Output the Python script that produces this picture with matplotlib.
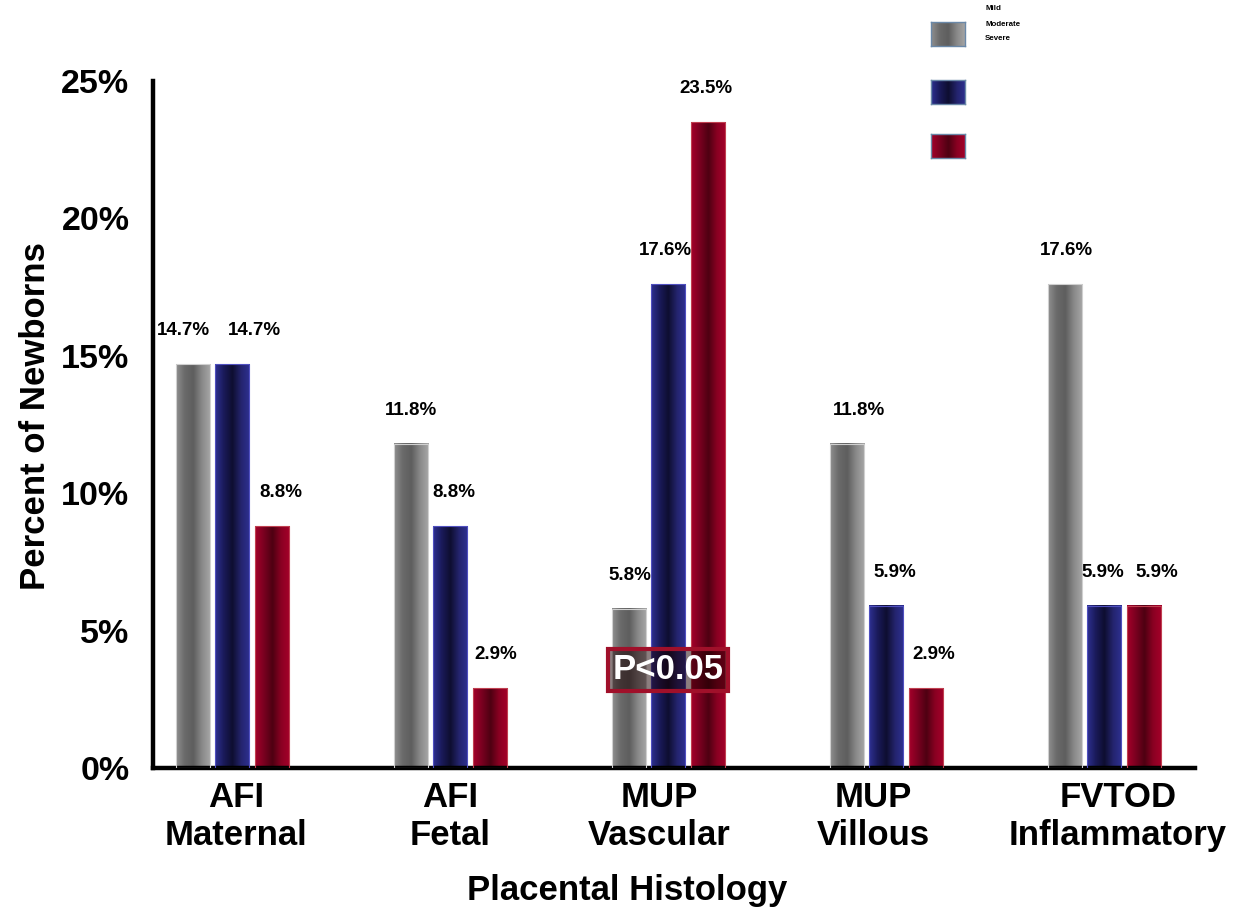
import numpy as np
import matplotlib
matplotlib.use("Agg")
import matplotlib.pyplot as plt
import matplotlib.transforms as mtransforms
from matplotlib.colors import LinearSegmentedColormap

plt.rcParams['font.family'] = ['Liberation Sans', 'DejaVu Sans']
plt.rcParams['font.weight'] = 'bold'

categories = ["AFI\nMaternal", "AFI\nFetal", "MUP\nVascular", "MUP\nVillous", "FVTOD\nInflammatory"]
series_names = ["Mild", "Moderate", "Severe"]
mild = [14.7, 11.8, 5.8, 11.8, 17.6]
moderate = [14.7, 8.8, 17.6, 5.9, 5.9]
severe = [8.8, 2.9, 23.5, 2.9, 5.9]
yticks = [0, 5, 10, 15, 20, 25]
ytick_labels = ["0%", "5%", "10%", "15%", "20%", "25%"]

# horizontal label nudges (in points) to keep neighbouring labels apart
label_shift = [
    [-7, 0, 0, 8, 1],
    [16, 3, -2, 6, -1],
    [6, 4, -2, 5, 9],
]
# horizontal nudges of category labels (pixels)
tick_shift = [4, 0, -9, -13, 14]

# gradient colour maps: edge -> dark centre -> edge
cmaps = [
    LinearSegmentedColormap.from_list("g", ["#909090", "#6a6a6a", "#5e5e5e", "#8a8a8a", "#a8a8a8"]),
    LinearSegmentedColormap.from_list("b", ["#2e3192", "#1a1a5a", "#0e0e30", "#24246e", "#2e3192"]),
    LinearSegmentedColormap.from_list("r", ["#a5002a", "#7a0020", "#4e0012", "#8a0022", "#a5002a"]),
]
edgecols = ["#d0d0d0", "#5050c0", "#c04050"]

fig = plt.figure(figsize=(12.45, 9.13), dpi=100)
ax = fig.add_axes([153/1245, 1-768/913, (1195-153)/1245, (768-81)/913])

x = np.arange(len(categories))
width = 0.156
offsets = [-0.177, 0.0, 0.185]
grad = np.linspace(0, 1, 256).reshape(1, -1)

for i, vals in enumerate([mild, moderate, severe]):
    bars = ax.bar(x + offsets[i], vals, width, color='none', edgecolor=edgecols[i], linewidth=0.8, zorder=3)
    for k, rect in enumerate(bars):
        x0 = rect.get_x()
        ax.imshow(grad, extent=[x0, x0 + rect.get_width(), 0, rect.get_height()],
                  cmap=cmaps[i], aspect='auto', zorder=2, interpolation='bilinear')
        ax.annotate(f"{vals[k]}%", xy=(x0 + rect.get_width()/2, rect.get_height()),
                    xytext=(label_shift[i][k], 18), textcoords='offset points',
                    ha='center', va='bottom', fontsize=13.5, fontweight='bold')

ax.set_xlim(-0.362, 4.417)
ax.set_ylim(0, 25)
ax.set_yticks(yticks)
ax.set_yticklabels(ytick_labels, fontsize=24.5, fontweight='bold')
ax.set_xticks(x)
ax.set_xticklabels(categories, fontsize=25, fontweight='bold', linespacing=1.2)
ax.tick_params(axis='both', length=0)
ax.tick_params(axis='y', pad=17)
ax.tick_params(axis='x', pad=9)
for lbl, dx in zip(ax.get_xticklabels(), tick_shift):
    lbl.set_transform(lbl.get_transform() + mtransforms.ScaledTranslation(dx/100, 0, fig.dpi_scale_trans))
for s in ['top', 'right']:
    ax.spines[s].set_visible(False)
for s in ['left', 'bottom']:
    ax.spines[s].set_linewidth(3.2)
ax.set_ylabel("Percent of Newborns", fontsize=25, fontweight='bold')
ax.set_xlabel("Placental Histology", fontsize=25, fontweight='bold')
ax.yaxis.set_label_coords(-0.097, 0.512)
ax.xaxis.set_label_coords(0.455, -0.155)

# significance box
ax.text(2.0, 3.57, "P<0.05", ha='center', va='center', color='white', fontsize=25, fontweight='bold',
        zorder=5, bbox=dict(boxstyle='square,pad=0.12', fc=(0.1, 0.0, 0.0, 0.5), ec='#a0102a', lw=3))

# legend (manual)
patch_tops = [22, 80, 134]
for i, top in enumerate(patch_tops):
    lax = fig.add_axes([931/1245, 1-(top+24)/913, 34/1245, 24/913])
    lax.imshow(grad, cmap=cmaps[i], aspect='auto', interpolation='bilinear')
    lax.set_xticks([]); lax.set_yticks([])
    for sp in lax.spines.values():
        sp.set_edgecolor('#6a88a8'); sp.set_linewidth(1)
for j, (name, ypix) in enumerate(zip(series_names, [9, 24, 38])):
    fig.text(985/1245, 1-ypix/913, name, fontsize=5.7, fontweight='bold', va='center', ha='left')

fig.savefig("out.png", dpi=100)
